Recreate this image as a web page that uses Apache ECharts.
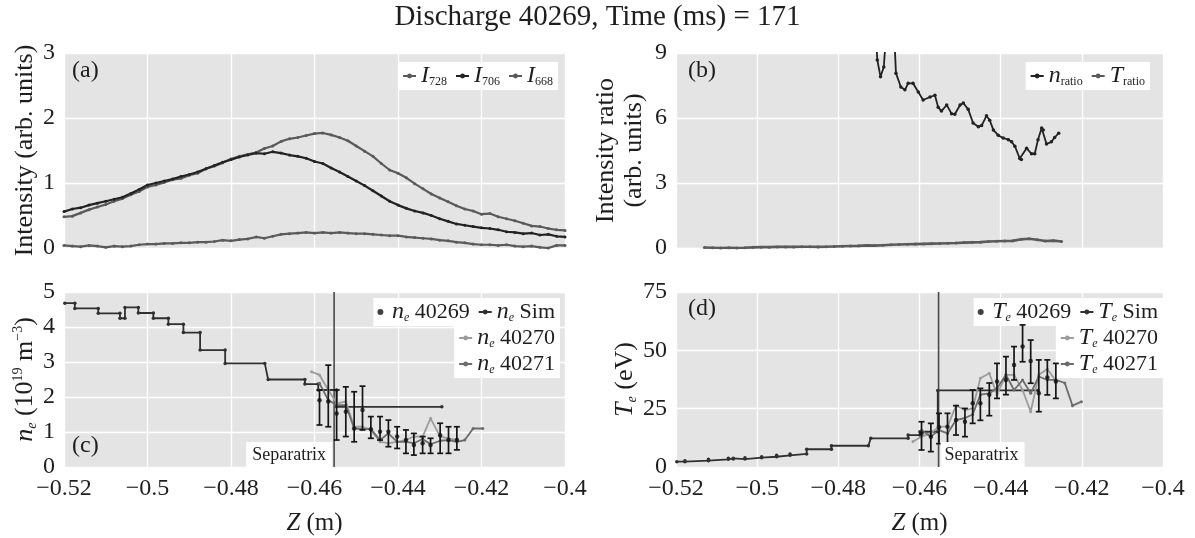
<!DOCTYPE html>
<html><head><meta charset="utf-8">
<script src="https://cdn.jsdelivr.net/npm/echarts@6/dist/echarts.min.js"></script>
<style>html,body{margin:0;padding:0;background:#fff}#c{width:1195px;height:538px}</style>
</head><body><div id="c"></div>
<script>
// ---------- DATA ----------
const xTicksZ = [-0.52, -0.5, -0.48, -0.46, -0.44, -0.42, -0.4];
const zA = [-0.520,-0.518,-0.516,-0.514,-0.512,-0.510,-0.508,-0.506,-0.504,-0.502,
  -0.500,-0.498,-0.496,-0.494,-0.492,-0.490,-0.488,-0.486,-0.484,-0.482,
  -0.480,-0.478,-0.476,-0.474,-0.472,-0.470,-0.468,-0.466,-0.464,-0.462,
  -0.460,-0.458,-0.456,-0.454,-0.452,-0.450,-0.448,-0.446,-0.444,-0.442,
  -0.440,-0.438,-0.436,-0.434,-0.432,-0.430,-0.428,-0.426,-0.424,-0.422,
  -0.420,-0.418,-0.416,-0.414,-0.412,-0.410,-0.408,-0.406,-0.404,-0.402,-0.400];
const I728 = [0.48,0.49,0.54,0.59,0.63,0.67,0.72,0.76,0.82,0.87,
  0.94,0.97,1.01,1.05,1.07,1.12,1.15,1.22,1.26,1.31,
  1.37,1.41,1.44,1.47,1.53,1.57,1.64,1.68,1.70,1.73,
  1.76,1.77,1.74,1.70,1.65,1.57,1.49,1.41,1.30,1.20,
  1.15,1.08,0.99,0.91,0.83,0.77,0.71,0.65,0.60,0.57,
  0.52,0.53,0.48,0.45,0.42,0.38,0.34,0.33,0.30,0.28,0.27];
const I706 = [0.56,0.60,0.62,0.66,0.69,0.72,0.75,0.78,0.84,0.90,
  0.97,1.00,1.03,1.06,1.10,1.13,1.17,1.22,1.27,1.32,
  1.36,1.40,1.43,1.46,1.45,1.48,1.46,1.43,1.41,1.38,
  1.33,1.30,1.23,1.17,1.10,1.03,0.96,0.88,0.80,0.72,
  0.66,0.61,0.57,0.54,0.50,0.45,0.41,0.37,0.35,0.33,
  0.31,0.30,0.28,0.25,0.24,0.22,0.23,0.20,0.21,0.18,0.17];
const I668 = [0.04,0.03,0.02,0.04,0.03,0.01,0.03,0.02,0.03,0.05,
  0.06,0.06,0.07,0.07,0.08,0.08,0.09,0.09,0.10,0.12,
  0.11,0.13,0.14,0.17,0.15,0.18,0.21,0.22,0.23,0.24,
  0.23,0.24,0.23,0.24,0.23,0.22,0.22,0.21,0.20,0.19,
  0.19,0.17,0.16,0.15,0.14,0.12,0.11,0.09,0.08,0.06,
  0.05,0.05,0.04,0.05,0.03,0.02,0.03,0.01,0.00,0.04,0.04];

const nRatio = [[-0.4708,10.0],[-0.4704,8.68],[-0.4696,7.90],[-0.4688,8.35],[-0.4680,10.5],[-0.4664,10.5],
  [-0.4658,8.07],[-0.4646,7.43],[-0.4636,7.30],[-0.4628,7.60],[-0.4616,7.60],[-0.4603,7.20],
  [-0.4591,6.83],[-0.4574,6.97],[-0.4562,7.05],[-0.4554,6.50],[-0.4546,6.32],[-0.4533,6.60],
  [-0.4521,6.20],[-0.4513,6.17],[-0.4500,6.60],[-0.4492,6.69],[-0.4480,6.40],[-0.4468,5.77],
  [-0.4455,5.60],[-0.4447,5.65],[-0.4435,6.10],[-0.4427,5.90],[-0.4418,5.45],[-0.4406,5.20],
  [-0.4394,5.08],[-0.4381,5.00],[-0.4373,4.90],[-0.4365,4.70],[-0.4353,4.13],[-0.4349,4.08],
  [-0.4336,4.60],[-0.4324,4.35],[-0.4316,4.35],[-0.4308,5.00],[-0.4299,5.54],[-0.4295,5.45],
  [-0.4287,4.80],[-0.4275,4.90],[-0.4267,5.10],[-0.4257,5.30]];
const zTr = [-0.513,-0.511,-0.509,-0.507,-0.505,-0.503,-0.501,-0.499,-0.497,-0.495,
  -0.493,-0.491,-0.489,-0.487,-0.485,-0.483,-0.481,-0.479,-0.477,-0.475,
  -0.473,-0.471,-0.469,-0.467,-0.465,-0.463,-0.461,-0.459,-0.457,-0.455,
  -0.453,-0.451,-0.449,-0.447,-0.445,-0.443,-0.441,-0.439,-0.437,-0.435,
  -0.433,-0.431,-0.429,-0.427,-0.425];
const tRatio = [0.02,0.01,0.00,0.01,0.00,0.01,0.03,0.04,0.04,0.05,
  0.05,0.05,0.06,0.06,0.05,0.06,0.07,0.08,0.09,0.10,
  0.12,0.11,0.13,0.15,0.16,0.17,0.18,0.19,0.20,0.21,
  0.22,0.23,0.25,0.26,0.27,0.30,0.31,0.32,0.33,0.40,
  0.43,0.38,0.32,0.34,0.30];

const separatrixZ = -0.4553;

const neSim = [[-0.5198,4.68],[-0.5174,4.68],[-0.5174,4.53],[-0.5118,4.53],[-0.5118,4.39],[-0.5066,4.39],
  [-0.5066,4.25],[-0.5054,4.25],[-0.5054,4.56],[-0.5022,4.56],[-0.5022,4.40],[-0.4986,4.40],
  [-0.4986,4.25],[-0.4950,4.25],[-0.4950,4.08],[-0.4914,4.08],[-0.4914,3.84],[-0.4874,3.84],
  [-0.4874,3.34],[-0.4814,3.34],[-0.4814,2.96],[-0.4719,2.96],[-0.4711,2.50],[-0.4623,2.50],
  [-0.4623,2.37],[-0.4591,2.37],[-0.4591,2.20],[-0.4547,2.20],[-0.4547,1.72],[-0.4295,1.72]];
const ne40269 = [[-0.4588,1.91],[-0.4567,1.87],[-0.4547,1.53],[-0.4525,1.58],[-0.4505,1.10],[-0.4485,1.63],
  [-0.4465,1.08],[-0.4443,1.01],[-0.4423,1.01],[-0.4402,0.87],[-0.4381,0.77],[-0.4362,0.63],
  [-0.4341,0.68],[-0.4322,0.63],[-0.4299,0.91],[-0.4279,0.77],[-0.4259,0.77]];
const ne40269Err = [[-0.4588,1.20,2.20],[-0.4567,1.15,2.91],[-0.4547,0.77,2.20],[-0.4525,0.87,2.29],
  [-0.4505,0.72,2.15],[-0.4485,1.06,2.31],[-0.4465,0.82,1.44],[-0.4443,0.77,1.44],[-0.4423,0.58,1.34],
  [-0.4402,0.53,1.15],[-0.4381,0.39,1.06],[-0.4362,0.34,0.96],[-0.4341,0.39,0.87],[-0.4322,0.39,0.82],
  [-0.4299,0.39,1.25],[-0.4279,0.39,1.15],[-0.4259,0.49,1.15]];
const ne40270 = [[-0.4607,2.72],[-0.4588,2.63],[-0.4567,2.20],[-0.4547,1.82],[-0.4525,1.87],[-0.4505,1.15],
  [-0.4485,1.15],[-0.4465,1.06],[-0.4443,0.72],[-0.4423,0.68],[-0.4402,0.72],[-0.4381,0.77],
  [-0.4362,0.87],[-0.4341,0.87],[-0.4322,1.39],[-0.4299,0.87],[-0.4279,0.82],[-0.4259,0.77]];
const ne40271 = [[-0.4588,2.39],[-0.4567,1.91],[-0.4547,1.77],[-0.4525,1.77],[-0.4505,1.10],[-0.4485,1.08],
  [-0.4465,1.08],[-0.4443,0.77],[-0.4423,0.96],[-0.4402,0.72],[-0.4381,0.72],[-0.4362,0.68],
  [-0.4341,0.80],[-0.4322,0.65],[-0.4299,0.75],[-0.4279,0.77],[-0.4259,0.72],[-0.4240,0.77],
  [-0.4220,1.10],[-0.4197,1.10]];

const teSim = [[-0.5198,2.3],[-0.5178,2.3],[-0.5178,2.7],[-0.5120,2.7],[-0.5120,3.3],[-0.5071,3.3],
  [-0.5071,3.7],[-0.5059,3.7],[-0.5059,3.4],[-0.5030,3.4],[-0.5030,4.0],[-0.4989,4.0],
  [-0.4989,4.4],[-0.4952,4.4],[-0.4952,5.0],[-0.4919,5.0],[-0.4919,5.6],[-0.4878,5.6],
  [-0.4878,7.6],[-0.4817,7.6],[-0.4817,9.1],[-0.4726,9.1],[-0.4720,12.3],[-0.4628,12.3],
  [-0.4628,13.7],[-0.4599,13.7],[-0.4599,15.1],[-0.4555,15.1],[-0.4555,32.8],[-0.4308,32.8]];
const te40269 = [[-0.4595,14.4],[-0.4572,13.0],[-0.4552,17.0],[-0.4531,17.3],[-0.4510,20.1],[-0.4488,19.4],
  [-0.4469,27.3],[-0.4450,27.3],[-0.4428,31.0],[-0.4409,36.6],[-0.4387,37.3],[-0.4367,43.7],
  [-0.4346,51.6],[-0.4326,45.4],[-0.4306,31.6],[-0.4285,38.4],[-0.4264,36.6]];
const te40269Err = [[-0.4595,7.3,19.4],[-0.4572,6.6,18.7],[-0.4552,10.0,23.0],[-0.4531,9.4,23.0],
  [-0.4510,13.7,26.3],[-0.4488,13.0,25.1],[-0.4469,18.7,33.0],[-0.4450,20.0,33.7],[-0.4428,22.0,36.0],
  [-0.4409,29.4,44.4],[-0.4387,31.0,47.3],[-0.4367,37.3,51.6],[-0.4346,45.1,60.9],[-0.4326,35.9,54.4],
  [-0.4306,23.7,45.9],[-0.4285,30.9,45.9],[-0.4264,29.4,44.4]];
const te40270 = [[-0.4616,10.9],[-0.4595,13.0],[-0.4572,14.4],[-0.4552,17.3],[-0.4531,17.3],[-0.4510,26.3],
  [-0.4488,24.4],[-0.4469,25.1],[-0.4450,38.0],[-0.4428,40.2],[-0.4409,31.0],[-0.4387,39.5],
  [-0.4367,39.5],[-0.4346,33.0],[-0.4326,23.7],[-0.4306,39.5],[-0.4285,42.0],[-0.4264,37.0]];
const te40271 = [[-0.4595,15.8],[-0.4572,13.0],[-0.4552,15.8],[-0.4531,14.4],[-0.4510,20.1],[-0.4488,21.0],
  [-0.4469,22.5],[-0.4450,31.0],[-0.4428,31.6],[-0.4409,33.7],[-0.4387,39.5],[-0.4367,33.0],
  [-0.4346,37.3],[-0.4326,31.6],[-0.4306,38.8],[-0.4285,37.3],[-0.4264,37.3],[-0.4242,36.0],
  [-0.4223,26.3],[-0.4201,28.0]];

// ---------- STYLE ----------
const FONT = 'Liberation Serif';
const TXT = '#1e1e1e';
const C_DARK = '#222', C_GREY = '#5a5a5a', C_LIGHT = '#9c9c9c', C_MID = '#6c6c6c';
const RICH = {
  i: {fontFamily: FONT, fontStyle: 'italic', fontSize: 24, color: TXT},
  s: {fontFamily: FONT, fontSize: 12, color: TXT, verticalAlign: 'bottom', lineHeight: 12},
  se: {fontFamily: FONT, fontStyle: 'italic', fontSize: 12, color: TXT, verticalAlign: 'bottom', lineHeight: 12},
  sup: {fontFamily: FONT, fontSize: 14, color: TXT, verticalAlign: 'top', lineHeight: 14},
  t: {fontFamily: FONT, fontSize: 22, color: TXT},
  z: {fontFamily: FONT, fontStyle: 'italic', fontSize: 25, color: TXT},
  yi: {fontFamily: FONT, fontStyle: 'italic', fontSize: 26, color: TXT},
  ys: {fontFamily: FONT, fontStyle: 'italic', fontSize: 14, color: TXT, verticalAlign: 'bottom', lineHeight: 14}
};
const LEG = {
  I728: '{i|I}{s|728}', I706: '{i|I}{s|706}', I668: '{i|I}{s|668}',
  n_ratio: '{i|n}{s|ratio}', T_ratio: '{i|T}{s|ratio}',
  ne40269: '{i|n}{se|e}{t| 40269}', neSim: '{i|n}{se|e}{t| Sim}',
  ne40270: '{i|n}{se|e}{t| 40270}', ne40271: '{i|n}{se|e}{t| 40271}',
  Te40269: '{i|T}{se|e}{t| 40269}', TeSim: '{i|T}{se|e}{t| Sim}',
  Te40270: '{i|T}{se|e}{t| 40270}', Te40271: '{i|T}{se|e}{t| 40271}'
};
const zip = (xs, ys) => xs.map((x, k) => [x, ys[k]]);

function xAxis(gi, show) {
  return {
    type: 'value', gridIndex: gi, min: -0.52, max: -0.4, interval: 0.02,
    axisLine: {show: false}, axisTick: {show: false},
    splitLine: {show: true, lineStyle: {color: '#ffffff', width: 1.3}},
    axisLabel: {show: show, fontFamily: FONT, fontSize: 24, color: TXT, margin: 10,
      formatter: v => (v < 0 ? '\u2212' : '') + String(Math.round(Math.abs(v) * 100) / 100)},
    name: show ? '{z|Z} (m)' : '', nameLocation: 'middle', nameGap: 44,
    nameTextStyle: {fontFamily: FONT, fontSize: 25, color: TXT, rich: RICH}
  };
}
function yAxis(gi, max, step, name, gap) {
  return {
    type: 'value', gridIndex: gi, min: 0, max: max, interval: step,
    axisLine: {show: false}, axisTick: {show: false},
    splitLine: {show: true, lineStyle: {color: '#ffffff', width: 1.3}},
    axisLabel: {fontFamily: FONT, fontSize: 24, color: TXT, margin: 9},
    name: name, nameLocation: 'middle', nameGap: gap,
    nameTextStyle: {fontFamily: FONT, fontSize: 26, color: TXT, lineHeight: 28, rich: RICH}
  };
}
function lineS(name, gi, data, color, width, sym) {
  return {name, type: 'line', xAxisIndex: gi, yAxisIndex: gi, data,
    symbol: 'circle', symbolSize: sym, showSymbol: true, color: color,
    lineStyle: {color, width}, itemStyle: {color}, animation: false, clip: true, z: 3};
}
function sepS(gi, top) {
  return {type: 'line', xAxisIndex: gi, yAxisIndex: gi, data: [[separatrixZ, 0], [separatrixZ, top]],
    symbol: 'none', silent: true, lineStyle: {color: '#4a4a4a', width: 1.6}, z: 2, animation: false};
}
function errRender(params, api) {
  const z = api.value(0);
  const p1 = api.coord([z, api.value(1)]), p2 = api.coord([z, api.value(2)]);
  const w = 3;
  const st = {stroke: '#151515', lineWidth: 1.7};
  return {type: 'group', children: [
    {type: 'line', shape: {x1: p1[0], y1: p1[1], x2: p2[0], y2: p2[1]}, style: st},
    {type: 'line', shape: {x1: p1[0] - w, y1: p1[1], x2: p1[0] + w, y2: p1[1]}, style: st},
    {type: 'line', shape: {x1: p2[0] - w, y1: p2[1], x2: p2[0] + w, y2: p2[1]}, style: st}
  ]};
}
function legend(names, right, top, orient) {
  return {data: names, right, top, orient, backgroundColor: '#ffffff', padding: [2, 5, 2, 4],
    itemGap: orient === 'vertical' ? 2 : 8, itemWidth: 13, itemHeight: 6, selectedMode: false,
    formatter: n => LEG[n], textStyle: {fontFamily: FONT, fontSize: 22, color: TXT, rich: RICH}};
}

const option = {
  animation: false,
  backgroundColor: '#ffffff',
  title: {text: 'Discharge 40269, Time (ms) = 171', left: 'center', top: -2,
    textStyle: {fontFamily: FONT, fontSize: 29, fontWeight: 'normal', color: TXT}},
  grid: [
    {left: 64, right: 630, top: 53, height: 195, show: true, backgroundColor: '#e4e4e4', borderWidth: 0},
    {left: 676, right: 32, top: 53, height: 195, show: true, backgroundColor: '#e4e4e4', borderWidth: 0},
    {left: 64, right: 630, top: 292, height: 175, show: true, backgroundColor: '#e4e4e4', borderWidth: 0},
    {left: 676, right: 32, top: 292, height: 175, show: true, backgroundColor: '#e4e4e4', borderWidth: 0}
  ],
  xAxis: [xAxis(0, false), xAxis(1, false), xAxis(2, true), xAxis(3, true)],
  yAxis: [
    yAxis(0, 3, 1, 'Intensity (arb. units)', 24),
    yAxis(1, 9, 3, 'Intensity ratio\n(arb. units)', 28),
    yAxis(2, 5, 1, '{yi|n}{ys|e} (10{sup|19} m{sup|\u22123})', 24),
    yAxis(3, 75, 25, '{yi|T}{ys|e} (eV)', 34)
  ],
  legend: [
    legend(['I728', 'I706', 'I668'], 1195 - 558, 62, 'horizontal'),
    legend(['n_ratio', 'T_ratio'], 1195 - 1150, 62, 'horizontal'),
    legend(['ne40269', 'neSim'], 1195 - 560, 298, 'horizontal'),
    legend(['ne40270', 'ne40271'], 1195 - 560, 324, 'vertical'),
    legend(['Te40269', 'TeSim'], 1195 - 1163, 298, 'horizontal'),
    legend(['Te40270', 'Te40271'], 1195 - 1163, 324, 'vertical')
  ],
  series: [
    lineS('I728', 0, zip(zA, I728), C_GREY, 2.2, 3),
    lineS('I706', 0, zip(zA, I706), C_DARK, 2.2, 3),
    lineS('I668', 0, zip(zA, I668), C_GREY, 2.2, 3),
    lineS('n_ratio', 1, nRatio, C_DARK, 1.8, 3.5),
    lineS('T_ratio', 1, zip(zTr, tRatio), C_GREY, 2.6, 3),
    sepS(2, 5),
    lineS('neSim', 2, neSim, '#303030', 1.8, 3.5),
    lineS('ne40270', 2, ne40270, C_LIGHT, 1.8, 3),
    lineS('ne40271', 2, ne40271, C_MID, 1.8, 3),
    {type: 'custom', xAxisIndex: 2, yAxisIndex: 2, renderItem: errRender, data: ne40269Err,
      encode: {x: 0, y: [1, 2]}, z: 4, animation: false},
    {name: 'ne40269', type: 'scatter', xAxisIndex: 2, yAxisIndex: 2, data: ne40269,
      symbol: 'circle', symbolSize: 4.5, itemStyle: {color: '#111'}, z: 5, animation: false},
    sepS(3, 75),
    lineS('TeSim', 3, teSim, '#303030', 1.8, 3.5),
    lineS('Te40270', 3, te40270, C_LIGHT, 1.8, 3),
    lineS('Te40271', 3, te40271, C_MID, 1.8, 3),
    {type: 'custom', xAxisIndex: 3, yAxisIndex: 3, renderItem: errRender, data: te40269Err,
      encode: {x: 0, y: [1, 2]}, z: 4, animation: false},
    {name: 'Te40269', type: 'scatter', xAxisIndex: 3, yAxisIndex: 3, data: te40269,
      symbol: 'circle', symbolSize: 4.5, itemStyle: {color: '#111'}, z: 5, animation: false}
  ]
};

const chart = echarts.init(document.getElementById('c'), null, {renderer: 'canvas'});
chart.setOption(option);

// annotations: panel letters and separatrix labels
const pc = chart.convertToPixel({xAxisIndex: 2, yAxisIndex: 2}, [separatrixZ, 0]);
const pd = chart.convertToPixel({xAxisIndex: 3, yAxisIndex: 3}, [separatrixZ, 0]);
const letterStyle = {font: '24px "Liberation Serif"', fill: TXT};
chart.setOption({graphic: [
  {type: 'text', left: 72, top: 59, z: 10, style: Object.assign({text: '(a)'}, letterStyle)},
  {type: 'text', left: 688, top: 59, z: 10, style: Object.assign({text: '(b)'}, letterStyle)},
  {type: 'text', left: 72, top: 434, z: 10, style: Object.assign({text: '(c)'}, letterStyle)},
  {type: 'text', left: 688, top: 297, z: 10, style: Object.assign({text: '(d)'}, letterStyle)},
  {type: 'text', x: pc[0] - 2, y: pc[1], z: 10, style: {text: 'Separatrix', font: '18px "Liberation Serif"',
    fill: TXT, align: 'right', verticalAlign: 'bottom', backgroundColor: '#ffffff', padding: [4, 6, 3, 6]}},
  {type: 'text', x: pd[0] + 2, y: pd[1], z: 10, style: {text: 'Separatrix', font: '18px "Liberation Serif"',
    fill: TXT, align: 'left', verticalAlign: 'bottom', backgroundColor: '#ffffff', padding: [4, 6, 3, 4]}}
]});
</script></body></html>
